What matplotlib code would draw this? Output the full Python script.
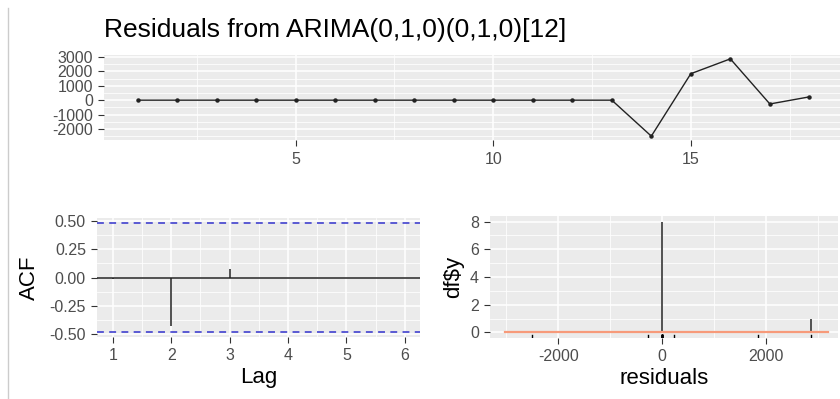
import numpy as np
import matplotlib
matplotlib.use('Agg')
import matplotlib.pyplot as plt
from matplotlib.lines import Line2D

plt.rcParams['font.family'] = ['Liberation Sans', 'DejaVu Sans']
plt.rcParams['axes.unicode_minus'] = False

# Residual series
time_idx = list(range(1, 19))
residuals = [0, 0, 0, 0, 0, 0, 0, 0, 0, 0, 0, 0, 0, -2500, 1840, 2870, -265, 230]

# ACF panel
lags = [1, 2, 3, 4, 5, 6]
acf_vals = [-0.012, -0.428, 0.072, 0.0, 0.0, 0.0]
ci = 0.4754

# Histogram panel (only the visible bars)
hist_centers = [0, 2870]
hist_counts = [8, 1]
normal_x = [-3020, 3200]
normal_y = [0, 0]

PANEL = '#EBEBEB'
TICK_TXT = '#4D4D4D'
TICK_LN = '#333333'

W, H = 840, 399
fig = plt.figure(figsize=(8.4, 3.99), dpi=100)


def px_axes(left, top, right, bottom):
    return fig.add_axes([left / W, 1 - bottom / H, (right - left) / W, (bottom - top) / H])


def gg_style(ax, tick_size=11.5):
    ax.set_facecolor(PANEL)
    for s in ax.spines.values():
        s.set_visible(False)
    ax.grid(True, which='major', color='white', linewidth=1.1)
    ax.grid(True, which='minor', color='white', linewidth=0.55)
    ax.set_axisbelow(True)
    ax.tick_params(which='major', length=4, width=0.8, color=TICK_LN,
                   labelcolor=TICK_TXT, labelsize=tick_size, pad=4)
    ax.tick_params(which='minor', length=0)


# thin border line on the left of the screenshot
fig.add_artist(Line2D([7.5 / W, 7.5 / W], [0, 1 - 8 / H], color='#CCCCCC', linewidth=1))

# --- Top: residual time plot ---
ax = px_axes(104, 55, 841, 140)
gg_style(ax)
ax.plot(time_idx, residuals, color='#222222', linewidth=1.0, marker='o', markersize=2.2)
rng = max(residuals) - min(residuals)
ax.set_ylim(min(residuals) - 0.05 * rng, max(residuals) + 0.05 * rng)
ax.set_xlim(0.15, 18.8)
ax.set_xticks([5, 10, 15])
ax.set_xticks([2.5, 7.5, 12.5, 17.5], minor=True)
ax.set_yticks([-2000, -1000, 0, 1000, 2000, 3000])
ax.set_yticks([-2500, -1500, -500, 500, 1500, 2500], minor=True)
ax.tick_params(axis='y', labelsize=11.5, pad=4)
ax.tick_params(axis='x', pad=5)
ax.set_title('Residuals from ARIMA(0,1,0)(0,1,0)[12]', loc='left', fontsize=19,
             color='black', pad=13)

# --- Bottom left: ACF ---
ax = px_axes(97, 218, 420, 337)
gg_style(ax)
ax.axhline(0, color='#222222', linewidth=1.1)
ax.vlines(lags, 0, acf_vals, color='#222222', linewidth=1.1)
ax.axhline(ci, color='#3333CC', linestyle=(0, (4.5, 3.5)), linewidth=1.1)
ax.axhline(-ci, color='#3333CC', linestyle=(0, (4.5, 3.5)), linewidth=1.1)
ax.set_xlim(0.73, 6.26)
ax.set_ylim(-1.1 * ci, 1.1 * ci)
ax.set_xticks(lags)
ax.set_xticks([1.5, 2.5, 3.5, 4.5, 5.5], minor=True)
ax.set_yticks([-0.5, -0.25, 0, 0.25, 0.5])
ax.set_yticklabels(['-0.50', '-0.25', '0.00', '0.25', '0.50'])
ax.set_yticks([-0.375, -0.125, 0.125, 0.375], minor=True)
ax.set_xlabel('Lag', fontsize=16, labelpad=3)
ax.set_ylabel('ACF', fontsize=16, labelpad=7)

# --- Bottom right: histogram ---
ax = px_axes(490, 216, 838, 338)
gg_style(ax)
ax.bar(hist_centers, hist_counts, width=22, color='#555555', linewidth=0)
ax.plot(normal_x, normal_y, color='#F79A7A', linewidth=1.6)
for r in residuals:
    ax.axvline(r, ymin=0, ymax=0.028, color='black', linewidth=1.0)
ax.set_xlim(-3314, 3390)
ax.set_ylim(-0.4, 8.4)
ax.set_xticks([-2000, 0, 2000])
ax.set_xticks([-3000, -1000, 1000, 3000], minor=True)
ax.set_yticks([0, 2, 4, 6, 8])
ax.set_yticks([1, 3, 5, 7], minor=True)
ax.set_xlabel('residuals', fontsize=16, labelpad=3)
ax.set_ylabel('df$y', fontsize=16, labelpad=4)

fig.savefig('out.png', dpi=100)
